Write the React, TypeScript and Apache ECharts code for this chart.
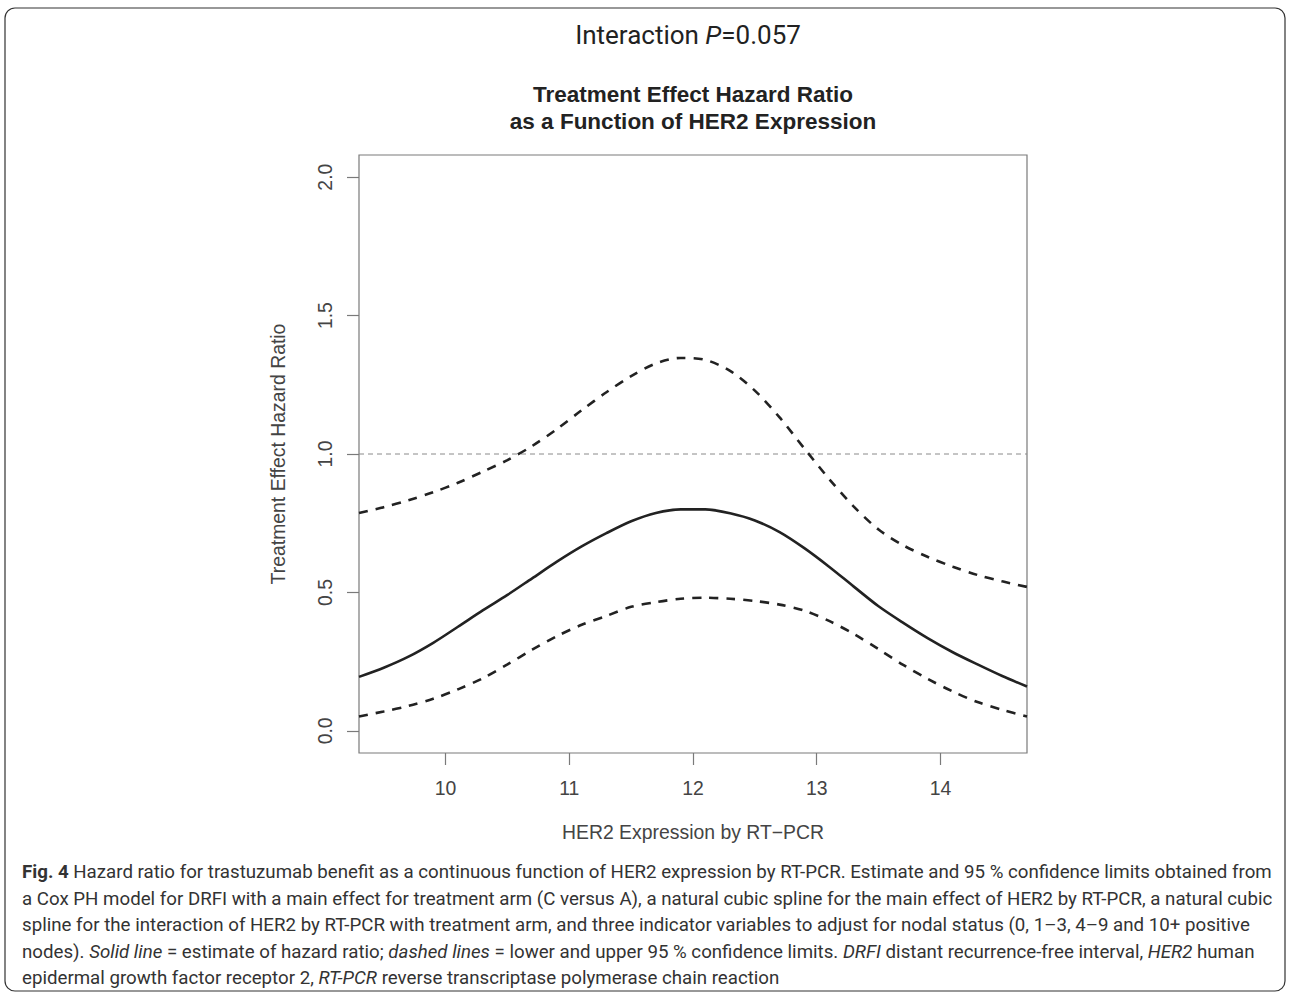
import React, { useEffect, useRef } from "react";
import * as echarts from "echarts";

const herX = [9.3, 9.5, 9.7, 9.9, 10.1, 10.3, 10.5, 10.7, 10.9, 11.1, 11.3, 11.5, 11.7, 11.9, 12.1, 12.3, 12.5, 12.7, 12.9, 13.1, 13.3, 13.5, 13.7, 13.9, 14.1, 14.3, 14.5, 14.7];
// Estimated treatment-effect hazard ratio (solid line)
const estimate = [0.195, 0.228, 0.268, 0.318, 0.376, 0.435, 0.491, 0.551, 0.611, 0.666, 0.714, 0.757, 0.787, 0.8, 0.8, 0.786, 0.76, 0.718, 0.66, 0.593, 0.521, 0.45, 0.39, 0.334, 0.284, 0.24, 0.198, 0.16];
// Lower 95% confidence limit (dashed)
const lower = [0.052, 0.07, 0.09, 0.116, 0.15, 0.19, 0.24, 0.293, 0.342, 0.383, 0.415, 0.448, 0.465, 0.477, 0.481, 0.477, 0.469, 0.456, 0.434, 0.397, 0.35, 0.295, 0.238, 0.187, 0.142, 0.104, 0.076, 0.052];
// Upper 95% confidence limit (dashed)
const upper = [0.787, 0.808, 0.833, 0.862, 0.896, 0.936, 0.978, 1.029, 1.09, 1.158, 1.223, 1.281, 1.327, 1.347, 1.34, 1.3, 1.229, 1.132, 1.02, 0.91, 0.81, 0.727, 0.67, 0.628, 0.593, 0.563, 0.54, 0.52];

const xTicks = [10, 11, 12, 13, 14];
const yTicks = [0, 0.5, 1, 1.5, 2];
const xRange = [9.3, 14.7];
const yRange = [-0.08, 2.08];
const refValue = 1;

const CAP_FONT = "Roboto, 'Open Sans', sans-serif";
const PLOT_FONT = "'Liberation Sans', Arial, sans-serif";
const CAP_SIZE = 18.7;

const caption =
  "{b|Fig. 4} Hazard ratio for trastuzumab benefit as a continuous function of HER2 expression by RT-PCR. Estimate and 95 % confidence limits obtained from\n" +
  "a Cox PH model for DRFI with a main effect for treatment arm (C versus A), a natural cubic spline for the main effect of HER2 by RT-PCR, a natural cubic\n" +
  "spline for the interaction of HER2 by RT-PCR with treatment arm, and three indicator variables to adjust for nodal status (0, 1–3, 4–9 and 10+ positive\n" +
  "nodes). {i|Solid line} = estimate of hazard ratio; {i|dashed lines} = lower and upper 95 % confidence limits. {i|DRFI} distant recurrence-free interval, {i|HER2} human\n" +
  "epidermal growth factor receptor 2, {i|RT-PCR} reverse transcriptase polymerase chain reaction";

export default function App() {
  const ref = useRef<HTMLDivElement>(null);
  useEffect(() => {
    if (!ref.current) return;
    const chart = echarts.init(ref.current, undefined, { renderer: "svg" });
    const pairs = (ys: number[]) => herX.map((x, i) => [x, ys[i]]);
    chart.setOption({
      animation: false,
      backgroundColor: "#fff",
      grid: {
        left: 359,
        top: 155,
        right: 1290 - 1027,
        bottom: 998 - 753,
        show: true,
        borderColor: "#7a7a7a",
        borderWidth: 1.2,
        containLabel: false,
      },
      xAxis: {
        type: "value",
        min: xRange[0],
        max: xRange[1],
        axisLine: { show: false, onZero: false },
        splitLine: { show: false },
        axisTick: { show: true, inside: false, length: 12, lineStyle: { color: "#7a7a7a", width: 1.2 }, customValues: xTicks },
        axisLabel: { color: "#444", fontSize: 19.4, fontFamily: PLOT_FONT, margin: 25, customValues: xTicks },
      },
      yAxis: {
        type: "value",
        min: yRange[0],
        max: yRange[1],
        axisLine: { show: false, onZero: false },
        splitLine: { show: false },
        axisTick: { show: true, inside: false, length: 12, lineStyle: { color: "#7a7a7a", width: 1.2 }, customValues: yTicks },
        axisLabel: {
          color: "#444",
          fontSize: 19.4,
          fontFamily: PLOT_FONT,
          margin: 25,
          rotate: 90,
          customValues: yTicks,
          formatter: (v: number) => v.toFixed(1),
        },
      },
      series: [
        {
          type: "line",
          data: [
            [xRange[0], refValue],
            [xRange[1], refValue],
          ],
          showSymbol: false,
          lineStyle: { color: "#8a8a8a", width: 1, type: [5, 4] },
          z: 1,
        },
        {
          type: "line",
          data: pairs(upper),
          smooth: 0.3,
          showSymbol: false,
          lineStyle: { color: "#222", width: 2.6, type: [9, 8] },
        },
        {
          type: "line",
          data: pairs(lower),
          smooth: 0.3,
          showSymbol: false,
          lineStyle: { color: "#222", width: 2.6, type: [9, 8] },
        },
        {
          type: "line",
          data: pairs(estimate),
          smooth: 0.3,
          showSymbol: false,
          lineStyle: { color: "#222", width: 2.6 },
        },
      ],
      graphic: [
        {
          type: "rect",
          shape: { x: 5, y: 8, width: 1280, height: 983, r: 10 },
          style: { fill: "none", stroke: "#333", lineWidth: 1.2 },
          silent: true,
        },
        {
          type: "text",
          x: 688,
          y: 35,
          style: {
            text: "Interaction {i|P}=0.057",
            fontFamily: CAP_FONT,
            fontSize: 26,
            fill: "#222",
            align: "center",
            verticalAlign: "middle",
            rich: { i: { fontStyle: "italic", fontFamily: CAP_FONT, fontSize: 26, fill: "#222" } },
          },
        },
        {
          type: "text",
          x: 693,
          y: 108,
          style: {
            text: "Treatment Effect Hazard Ratio\nas a Function of HER2 Expression",
            fontFamily: PLOT_FONT,
            fontSize: 22.5,
            fontWeight: "bold",
            lineHeight: 27,
            fill: "#222",
            align: "center",
            verticalAlign: "middle",
          },
        },
        {
          type: "text",
          x: 278,
          y: 454,
          rotation: Math.PI / 2,
          style: {
            text: "Treatment Effect Hazard Ratio",
            fontFamily: PLOT_FONT,
            fontSize: 19.4,
            fill: "#444",
            align: "center",
            verticalAlign: "middle",
          },
        },
        {
          type: "text",
          x: 693,
          y: 832,
          style: {
            text: "HER2 Expression by RT−PCR",
            fontFamily: PLOT_FONT,
            fontSize: 19.4,
            fill: "#444",
            align: "center",
            verticalAlign: "middle",
          },
        },
        {
          type: "text",
          x: 22,
          y: 859,
          style: {
            text: caption,
            fontFamily: CAP_FONT,
            fontSize: CAP_SIZE,
            lineHeight: 26.5,
            fill: "#333",
            align: "left",
            verticalAlign: "top",
            rich: {
              b: { fontWeight: "bold", fontFamily: CAP_FONT, fontSize: CAP_SIZE, lineHeight: 26.5, fill: "#333" },
              i: { fontStyle: "italic", fontFamily: CAP_FONT, fontSize: CAP_SIZE, lineHeight: 26.5, fill: "#333" },
            },
          },
        },
      ],
    });
    return () => chart.dispose();
  }, []);
  return (
    <div
      ref={ref}
      style={{ position: "absolute", left: 0, top: 0, width: 1290, height: 998 }}
    />
  );
}
